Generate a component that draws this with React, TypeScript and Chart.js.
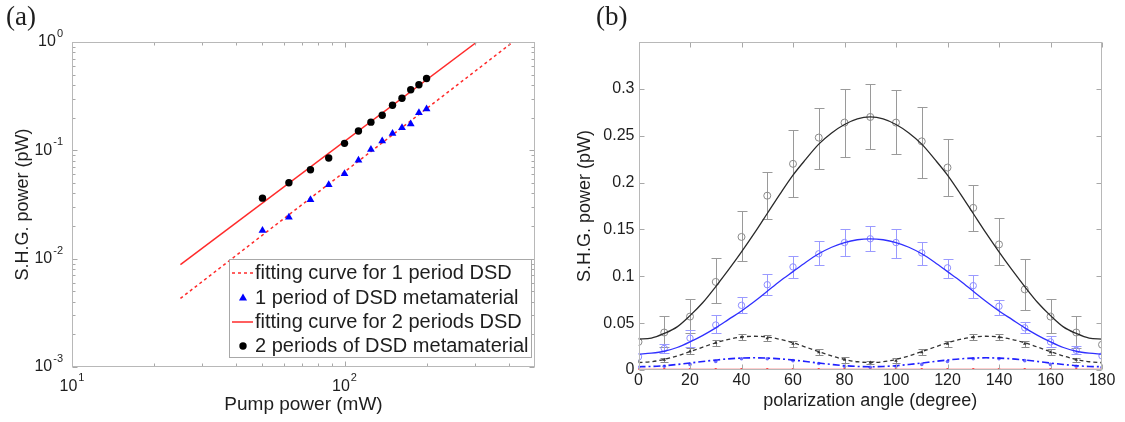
import React, { useEffect, useRef } from "react";
import { Chart, registerables } from "chart.js";
Chart.register(...registerables);

const FONT = '"Liberation Sans", Arial, Helvetica, sans-serif';
const TEXT = "#1e1e1e";

// ---------- Panel (a) data ----------
const pumpPower = [50, 62.5, 75, 87.5, 100, 112.5, 125, 137.5, 150, 162.5, 175, 187.5, 200];
const shg2Periods = [0.0362, 0.0502, 0.0662, 0.0849, 0.116, 0.151, 0.182, 0.211, 0.261, 0.303, 0.362, 0.403, 0.461];
const shg1Period = [0.0182, 0.0241, 0.0349, 0.0481, 0.0608, 0.0808, 0.102, 0.122, 0.143, 0.162, 0.175, 0.222, 0.241];
const fit1X = [25, 415];
const fit1Y = [0.0043, 1.0];
const fit2X = [25, 306];
const fit2Y = [0.0088, 1.0];
const aXTickValues = [10, 100];
const aXTickExp = ["1", "2"];
const aXMinor = [20, 30, 40, 50, 60, 70, 80, 90, 200, 300, 400];
const aYTickValues = [0.001, 0.01, 0.1, 1];
const aYTickExp = ["-3", "-2", "-1", "0"];
const aYMinor = [0.002, 0.003, 0.004, 0.005, 0.006, 0.007, 0.008, 0.009, 0.02, 0.03, 0.04, 0.05, 0.06, 0.07, 0.08, 0.09, 0.2, 0.3, 0.4, 0.5, 0.6, 0.7, 0.8, 0.9];

// ---------- Panel (b) data ----------
const angles = [0, 10, 20, 30, 40, 50, 60, 70, 80, 90, 100, 110, 120, 130, 140, 150, 160, 170, 180];
const blackPts = [0.030, 0.040, 0.057, 0.094, 0.142, 0.186, 0.220, 0.248, 0.264, 0.270, 0.264, 0.244, 0.216, 0.173, 0.134, 0.086, 0.057, 0.040, 0.027];
const blackHi = [null, 0.058, 0.076, 0.120, 0.170, 0.211, 0.256, 0.280, 0.300, 0.305, 0.299, 0.281, 0.246, 0.197, 0.162, 0.118, 0.076, 0.058, null];
const blackLo = [null, 0.025, 0.039, 0.071, 0.116, 0.161, 0.185, 0.215, 0.227, 0.236, 0.230, 0.205, 0.186, 0.148, 0.112, 0.064, 0.039, 0.023, null];
const bluePts = [0.014, 0.023, 0.034, 0.048, 0.069, 0.091, 0.110, 0.124, 0.136, 0.140, 0.136, 0.125, 0.109, 0.090, 0.068, 0.045, 0.030, 0.021, 0.015];
const blueHi = [null, 0.028, 0.043, 0.059, 0.078, 0.102, 0.122, 0.138, 0.150, 0.154, 0.150, 0.137, 0.118, 0.101, 0.075, 0.051, 0.036, 0.026, null];
const blueLo = [null, 0.018, 0.025, 0.039, 0.061, 0.080, 0.098, 0.112, 0.122, 0.127, 0.120, 0.112, 0.098, 0.077, 0.059, 0.039, 0.025, 0.017, null];
const dashPts = [0.009, 0.011, 0.020, 0.029, 0.035, 0.034, 0.028, 0.019, 0.011, 0.008, 0.010, 0.019, 0.028, 0.035, 0.035, 0.028, 0.019, 0.011, 0.008];
const dashHi = [null, 0.013, 0.023, 0.032, 0.038, 0.037, 0.031, 0.022, 0.014, 0.010, 0.013, 0.022, 0.031, 0.038, 0.038, 0.031, 0.022, 0.013, null];
const dashLo = [null, 0.009, 0.017, 0.026, 0.032, 0.031, 0.025, 0.016, 0.008, 0.006, 0.007, 0.016, 0.025, 0.032, 0.032, 0.025, 0.016, 0.009, null];
const dotPts = [0.003, 0.004, 0.006, 0.009, 0.012, 0.012, 0.010, 0.007, 0.004, 0.003, 0.004, 0.006, 0.009, 0.012, 0.012, 0.010, 0.006, 0.004, 0.003];
const redPts = [0.0005, 0.0005, 0.0005, 0.0005, 0.0005, 0.0005, 0.0005, 0.0005, 0.0005, 0.0005, 0.0005, 0.0005, 0.0005, 0.0005, 0.0005, 0.0005, 0.0005, 0.0005, 0.0005];

const fitAngles = [0, 5, 10, 15, 20, 25, 30, 35, 40, 45, 50, 55, 60, 65, 70, 75, 80, 85, 90, 95, 100, 105, 110, 115, 120, 125, 130, 135, 140, 145, 150, 155, 160, 165, 170, 175, 180];
const blackFit = [0.033, 0.034, 0.039, 0.046, 0.058, 0.072, 0.089, 0.107, 0.126, 0.146, 0.167, 0.188, 0.208, 0.225, 0.241, 0.253, 0.262, 0.268, 0.270, 0.268, 0.262, 0.253, 0.241, 0.225, 0.208, 0.188, 0.167, 0.146, 0.126, 0.107, 0.089, 0.072, 0.058, 0.046, 0.039, 0.034, 0.033];
const blueFit = [0.017, 0.018, 0.020, 0.024, 0.030, 0.037, 0.045, 0.054, 0.063, 0.073, 0.084, 0.095, 0.105, 0.115, 0.124, 0.131, 0.136, 0.139, 0.140, 0.139, 0.136, 0.131, 0.124, 0.115, 0.105, 0.095, 0.084, 0.073, 0.063, 0.054, 0.045, 0.037, 0.030, 0.024, 0.020, 0.018, 0.017];
const dashFit = [0.008, 0.0088, 0.0113, 0.015, 0.0196, 0.0244, 0.029, 0.0327, 0.0352, 0.036, 0.0352, 0.0327, 0.029, 0.0244, 0.0196, 0.015, 0.0113, 0.0088, 0.008, 0.0088, 0.0113, 0.015, 0.0196, 0.0244, 0.029, 0.0327, 0.0352, 0.036, 0.0352, 0.0327, 0.029, 0.0244, 0.0196, 0.015, 0.0113, 0.0088, 0.008];
const dotFit = [0.0035, 0.0038, 0.0046, 0.0059, 0.0074, 0.0091, 0.0106, 0.0119, 0.0127, 0.013, 0.0127, 0.0119, 0.0106, 0.0091, 0.0074, 0.0059, 0.0046, 0.0038, 0.0035, 0.0038, 0.0046, 0.0059, 0.0074, 0.0091, 0.0106, 0.0119, 0.0127, 0.013, 0.0127, 0.0119, 0.0106, 0.0091, 0.0074, 0.0059, 0.0046, 0.0038, 0.0035];
const redFitX = [0, 180];
const redFitY = [0.0004, 0.0004];
const bXTicks = [0, 20, 40, 60, 80, 100, 120, 140, 160, 180];
const bYTicks = [0, 0.05, 0.1, 0.15, 0.2, 0.25, 0.3, 0.35];

const pts = (xs: number[], ys: (number | null)[]) => xs.map((x, i) => ({ x, y: ys[i] as number }));

// ---------- plugins ----------
function framePlugin(xMajor: number[], xMinor: number[], yMajor: number[], yMinor: number[]) {
  return {
    id: "frame",
    afterDatasetsDraw(chart: any) {
      const { ctx, chartArea: a, scales } = chart;
      const xs = scales.x, ys = scales.y;
      const L = Math.round(a.left) + 0.5, R = Math.round(a.right) - 0.5;
      const T = Math.round(a.top) + 0.5, B = Math.round(a.bottom) - 0.5;
      ctx.save();
      ctx.lineWidth = 1;
      ctx.strokeStyle = "#a8a8a8";
      const tick = (vals: number[], len: number, horiz: boolean) => {
        ctx.beginPath();
        for (const v of vals) {
          if (horiz) {
            const p = Math.round(xs.getPixelForValue(v)) + 0.5;
            ctx.moveTo(p, B); ctx.lineTo(p, B - len);
            ctx.moveTo(p, T); ctx.lineTo(p, T + len);
          } else {
            const p = Math.round(ys.getPixelForValue(v)) + 0.5;
            ctx.moveTo(L, p); ctx.lineTo(L + len, p);
            ctx.moveTo(R, p); ctx.lineTo(R - len, p);
          }
        }
        ctx.stroke();
      };
      tick(xMajor, 5, true);
      tick(xMinor, 3, true);
      tick(yMajor, 5, false);
      tick(yMinor, 3, false);
      ctx.strokeStyle = "#b8b8b8";
      ctx.strokeRect(L, T, R - L, B - T);
      ctx.restore();
    },
  };
}

type Bars = { xs: number[]; lo: (number | null)[]; hi: (number | null)[]; color: string; cap: number };
function errorBarPlugin(bars: Bars[]) {
  return {
    id: "errbars",
    beforeDatasetsDraw(chart: any) {
      const { ctx, chartArea: a, scales } = chart;
      const xs = scales.x, ys = scales.y;
      ctx.save();
      ctx.beginPath();
      ctx.rect(a.left, a.top, a.right - a.left, a.bottom - a.top);
      ctx.clip();
      for (const b of bars) {
        ctx.strokeStyle = b.color;
        ctx.lineWidth = 1;
        ctx.beginPath();
        b.xs.forEach((xv, i) => {
          const lo = b.lo[i], hi = b.hi[i];
          if (lo == null || hi == null) return;
          const px = Math.round(xs.getPixelForValue(xv)) + 0.5;
          const pl = Math.round(ys.getPixelForValue(lo)) + 0.5;
          const ph = Math.round(ys.getPixelForValue(hi)) + 0.5;
          ctx.moveTo(px, pl); ctx.lineTo(px, ph);
          ctx.moveTo(px - b.cap, pl); ctx.lineTo(px + b.cap, pl);
          ctx.moveTo(px - b.cap, ph); ctx.lineTo(px + b.cap, ph);
        });
        ctx.stroke();
      }
      ctx.restore();
    },
  };
}

const logLabelPlugin = {
  id: "logLabels",
  afterDraw(chart: any) {
    const { ctx, scales } = chart;
    const xs = scales.x, ys = scales.y;
    ctx.save();
    ctx.fillStyle = TEXT;
    ctx.textBaseline = "middle";
    const base = `16px ${FONT}`;
    const sup = `11px ${FONT}`;
    ctx.font = base;
    const bw = ctx.measureText("10").width;
    aXTickValues.forEach((v, i) => {
      const p = xs.getPixelForValue(v);
      ctx.font = sup;
      const sw = ctx.measureText(aXTickExp[i]).width;
      const start = p - (bw + 1 + sw) / 2;
      ctx.font = base;
      ctx.textAlign = "left";
      ctx.fillText("10", start, 387);
      ctx.font = sup;
      ctx.fillText(aXTickExp[i], start + bw + 1, 378);
    });
    const right = 63;
    aYTickValues.forEach((v, i) => {
      const p = ys.getPixelForValue(v);
      ctx.font = sup;
      const sw = ctx.measureText(aYTickExp[i]).width;
      ctx.textAlign = "right";
      ctx.fillText(aYTickExp[i], right, p - 8);
      ctx.font = base;
      ctx.fillText("10", right - sw - 1, p);
    });
    ctx.restore();
  },
};

const legendPlugin = {
  id: "insideLegend",
  afterDraw(chart: any) {
    const { ctx } = chart;
    const box = { l: 229, t: 259, r: 532, b: 358 };
    const rows = [273, 298, 322, 346];
    const ds = chart.data.datasets;
    ctx.save();
    ctx.fillStyle = "#ffffff";
    ctx.fillRect(box.l, box.t, box.r - box.l, box.b - box.t);
    ctx.strokeStyle = "#a8a8a8";
    ctx.lineWidth = 1;
    ctx.strokeRect(box.l + 0.5, box.t + 0.5, box.r - box.l - 1, box.b - box.t - 1);
    ds.forEach((d: any, i: number) => {
      const y = rows[i];
      if (d.showLine === false) {
        ctx.fillStyle = d.backgroundColor;
        ctx.beginPath();
        if (d.pointStyle === "triangle") {
          const r = d.pointRadius;
          ctx.moveTo(243, y - r);
          ctx.lineTo(243 + r * 0.9, y + r * 0.55);
          ctx.lineTo(243 - r * 0.9, y + r * 0.55);
          ctx.closePath();
        } else {
          ctx.arc(243, y, d.pointRadius, 0, Math.PI * 2);
        }
        ctx.fill();
      } else {
        ctx.strokeStyle = d.borderColor;
        ctx.lineWidth = d.borderWidth;
        ctx.setLineDash(d.borderDash || []);
        ctx.beginPath();
        ctx.moveTo(232, y);
        ctx.lineTo(253, y);
        ctx.stroke();
        ctx.setLineDash([]);
      }
      ctx.fillStyle = TEXT;
      ctx.font = `20px ${FONT}`;
      ctx.textAlign = "left";
      ctx.textBaseline = "middle";
      ctx.fillText(d.label, 255, y);
    });
    ctx.restore();
  },
};

// ---------- configs ----------
function configA(): any {
  return {
    type: "line",
    data: {
      datasets: [
        { label: "fitting curve for 1 period DSD", data: pts(fit1X, fit1Y), borderColor: "#ff2a2a", borderWidth: 1.5, borderDash: [3, 3], pointRadius: 0, order: 3 },
        { label: "1 period of DSD metamaterial", data: pts(pumpPower, shg1Period), showLine: false, pointStyle: "triangle", pointRadius: 4.5, backgroundColor: "#0000ff", borderColor: "#0000ff", pointBorderWidth: 0, order: 1 },
        { label: "fitting curve for 2 periods DSD", data: pts(fit2X, fit2Y), borderColor: "#ff2a2a", borderWidth: 1.5, pointRadius: 0, order: 2 },
        { label: "2 periods of DSD metamaterial", data: pts(pumpPower, shg2Periods), showLine: false, pointStyle: "circle", pointRadius: 3.7, backgroundColor: "#000000", borderColor: "#000000", pointBorderWidth: 0, order: 0 },
      ],
    },
    options: {
      responsive: false,
      animation: false,
      events: [],
      layout: { padding: { left: 0, right: 25, top: 42, bottom: 0 } },
      scales: {
        x: {
          type: "logarithmic", min: 10, max: 500,
          grid: { display: false, drawTicks: false }, border: { display: false },
          ticks: { display: false },
          afterFit: (s: any) => { s.height = 55; },
          title: { display: true, text: "Pump power (mW)", color: TEXT, font: { family: FONT, size: 19 }, padding: { top: 0, bottom: 6 } },
        },
        y: {
          type: "logarithmic", min: 0.001, max: 1,
          grid: { display: false, drawTicks: false }, border: { display: false },
          ticks: { display: false },
          afterFit: (s: any) => { s.width = 72; },
          title: { display: true, text: "S.H.G. power (pW)", color: TEXT, font: { family: FONT, size: 18 }, padding: { top: 12, bottom: 0 } },
        },
      },
      plugins: { legend: { display: false }, tooltip: { enabled: false } },
    },
    plugins: [framePlugin(aXTickValues, aXMinor, aYTickValues, aYMinor), logLabelPlugin, legendPlugin],
  };
}

function configB(): any {
  const curve = { pointRadius: 0, cubicInterpolationMode: "monotone", fill: false, order: 0 };
  return {
    type: "line",
    data: {
      datasets: [
        { ...curve, label: "fit 1", data: pts(fitAngles, blackFit), borderColor: "#2a2a2a", borderWidth: 1.3 },
        { ...curve, label: "fit 2", data: pts(fitAngles, blueFit), borderColor: "#3030ff", borderWidth: 1.3 },
        { ...curve, label: "fit 3", data: pts(fitAngles, dashFit), borderColor: "#333333", borderWidth: 1.3, borderDash: [4, 3] },
        { ...curve, label: "fit 4", data: pts(fitAngles, dotFit), borderColor: "#2020ff", borderWidth: 1.6, borderDash: [7, 3, 2, 3] },
        { ...curve, label: "fit 5", data: pts(redFitX, redFitY), borderColor: "#ff4040", borderWidth: 1.6 },
        { label: "data 1", data: pts(angles, blackPts), showLine: false, pointStyle: "circle", pointRadius: 3.5, backgroundColor: "rgba(0,0,0,0)", borderColor: "#8a8a8a", pointBorderWidth: 1, order: 1 },
        { label: "data 2", data: pts(angles, bluePts), showLine: false, pointStyle: "circle", pointRadius: 3.2, backgroundColor: "rgba(0,0,0,0)", borderColor: "#8c8cff", pointBorderWidth: 1, order: 1 },
        { label: "data 3", data: pts(angles, dashPts), showLine: false, pointStyle: "triangle", pointRadius: 2, backgroundColor: "#333333", borderColor: "#333333", pointBorderWidth: 0, order: 1 },
        { label: "data 4", data: pts(angles, dotPts), showLine: false, pointStyle: "circle", pointRadius: 1.8, backgroundColor: "#6a6aff", borderColor: "#6a6aff", pointBorderWidth: 0, order: 1 },
        { label: "data 5", data: pts(angles, redPts), showLine: false, pointStyle: "circle", pointRadius: 1.5, backgroundColor: "#ff3030", borderColor: "#ff3030", pointBorderWidth: 0, order: 1 },
      ],
    },
    options: {
      responsive: false,
      animation: false,
      events: [],
      layout: { padding: { left: 0, right: 23, top: 42, bottom: 0 } },
      scales: {
        x: {
          type: "linear", min: 0, max: 180,
          grid: { display: false, drawTicks: false }, border: { display: false },
          afterBuildTicks: (s: any) => { s.ticks = bXTicks.map((v) => ({ value: v })); },
          ticks: { color: TEXT, font: { family: FONT, size: 16 }, padding: 1, maxRotation: 0, autoSkip: false },
          afterFit: (s: any) => { s.height = 52; },
          title: { display: true, text: "polarization angle (degree)", color: TEXT, font: { family: FONT, size: 18 }, padding: { top: 0, bottom: 10 } },
        },
        y: {
          type: "linear", min: 0, max: 0.35,
          grid: { display: false, drawTicks: false }, border: { display: false },
          afterBuildTicks: (s: any) => { s.ticks = bYTicks.map((v) => ({ value: v })); },
          ticks: {
            color: TEXT, font: { family: FONT, size: 16 }, padding: 4, autoSkip: false,
            callback: (v: number) => (v > 0.34 ? "" : String(Number(v.toFixed(2)))),
          },
          afterFit: (s: any) => { s.width = 78.5; },
          title: { display: true, text: "S.H.G. power (pW)", color: TEXT, font: { family: FONT, size: 18 }, padding: { top: 14, bottom: 0 } },
        },
      },
      plugins: { legend: { display: false }, tooltip: { enabled: false } },
    },
    plugins: [
      framePlugin(bXTicks, [], bYTicks, []),
      errorBarPlugin([
        { xs: angles, lo: blackLo, hi: blackHi, color: "#9a9a9a", cap: 5 },
        { xs: angles, lo: blueLo, hi: blueHi, color: "#9a9aff", cap: 5 },
        { xs: angles, lo: dashLo, hi: dashHi, color: "#8a8a8a", cap: 4 },
      ]),
    ],
  };
}

function ChartCanvas({ make, left, width, height }: { make: () => any; left: number; width: number; height: number }) {
  const ref = useRef<HTMLCanvasElement | null>(null);
  useEffect(() => {
    const c = new Chart(ref.current as HTMLCanvasElement, make());
    return () => c.destroy();
  }, []);
  return <canvas ref={ref} width={width} height={height} style={{ position: "absolute", left, top: 0, width, height }} />;
}

export default function App() {
  const label: React.CSSProperties = { position: "absolute", top: 2, fontFamily: '"Liberation Serif", "Times New Roman", serif', fontSize: 27, lineHeight: "28px", color: TEXT };
  return (
    <div style={{ position: "absolute", left: 0, top: 0, width: 1125, height: 422, background: "#ffffff", overflow: "hidden" }}>
      <ChartCanvas make={configA} left={0} width={560} height={422} />
      <ChartCanvas make={configB} left={560} width={565} height={422} />
      <div style={{ ...label, left: 6 }}>(a)</div>
      <div style={{ ...label, left: 596 }}>(b)</div>
    </div>
  );
}
